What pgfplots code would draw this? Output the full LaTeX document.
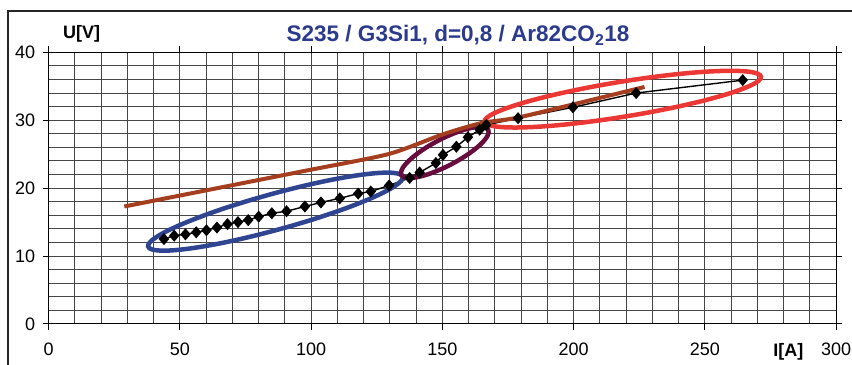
\documentclass[border=0pt]{standalone}
\usepackage{pgfplots}
\pgfplotsset{compat=1.18}
\usepackage{fontspec}
\setmainfont{Liberation Sans}
\definecolor{titleblue}{RGB}{43,58,140}
\definecolor{ellblue}{RGB}{47,69,145}
\definecolor{ellpurple}{RGB}{104,12,62}
\definecolor{ellred}{RGB}{236,56,52}
\definecolor{brownline}{RGB}{165,62,30}
\definecolor{gridc}{RGB}{70,70,70}
\begin{document}
\begin{tikzpicture}
\useasboundingbox (0,0) rectangle (852bp,365bp);
\draw[line width=1.3bp, black!85] (8bp,-10bp) -- (8bp,354bp) -- (870bp,354bp);
\begin{axis}[
  at={(48.7bp,41bp)}, anchor=origin,
  scale only axis, width=787.5bp, height=271.7bp,
  xmin=0, xmax=300, ymin=0, ymax=40,
  xtick={0,50,...,300}, ytick={0,10,...,40},
  minor xtick={10,20,...,290}, minor ytick={2,4,...,38},
  grid=both,
  major grid style={gridc, line width=1bp},
  minor grid style={gridc, line width=1bp},
  tick align=outside, major tick length=6bp, minor tick length=0bp,
  tick style={black, line width=1bp},
  axis line style={black, line width=1bp},
  tick label style={font=\fontsize{18bp}{20bp}\selectfont},
  /pgf/number format/assume math mode=true,
  xticklabel style={yshift=-9bp},
  yticklabel style={xshift=-4bp},
  clip=false,
]
\addplot[black, line width=1.4bp, mark=diamond*, mark size=5bp, mark options={solid,fill=black,xscale=1.15}] coordinates {
(43.9,12.5) (47.8,13.0) (52.1,13.2) (56.2,13.5) (60.1,13.8) (64.1,14.2)
(68.1,14.7) (72.1,15.0) (76.0,15.3) (80.0,15.8) (85.0,16.3) (90.6,16.6)
(97.6,17.3) (103.7,17.9) (110.9,18.5) (117.9,19.2) (122.7,19.5) (129.7,20.4)
(137.5,21.5) (141.3,22.3) (147.5,23.7) (150.2,24.9) (155.3,26.1) (159.7,27.5)
(164.2,28.6) (166.7,29.3) (178.8,30.3) (199.7,31.9) (223.8,34.0) (264.4,35.9)
};
\draw[ellblue, line width=4.5bp, rotate around={15.35:(axis cs:86.4,16.54)}] (axis cs:86.4,16.54) ellipse [x radius=132bp, y radius=18bp];
\draw[ellpurple, line width=4.5bp, rotate around={27.5:(axis cs:150.9,25.26)}] (axis cs:150.9,25.26) ellipse [x radius=49bp, y radius=13.5bp];
\draw[ellred, line width=4.5bp, rotate around={9.24:(axis cs:218.7,33.1)}] (axis cs:218.7,33.1) ellipse [x radius=140bp, y radius=17.5bp];
\addplot[brownline, line width=4bp, smooth, tension=0.4] coordinates {
(28.8,17.3) (95.7,22.4) (129.3,25.0) (150,27.9) (165,29.6) (180,30.5) (227,34.9)
};
\end{axis}
\node[font=\fontsize{22.5bp}{26bp}\selectfont\bfseries, text=titleblue] at (458bp,330bp) {S235 / G3Si1, d=0,8 / Ar82CO\textsubscript{2}18};
\node[font=\fontsize{18bp}{20bp}\selectfont\bfseries] at (81.7bp,331bp) {U[V]};
\node[font=\fontsize{18bp}{20bp}\selectfont\bfseries] at (788.3bp,13bp) {I[A]};
\end{tikzpicture}
\end{document}
